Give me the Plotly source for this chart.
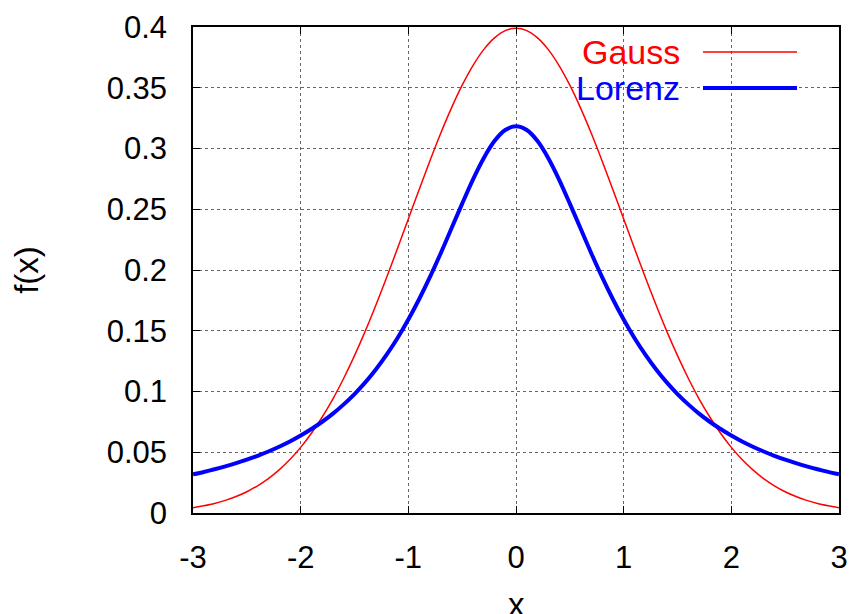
import plotly.graph_objects as go

# Values at x = 0 .. 3, step 0.1 (curves are symmetric)
x_half = [0.0, 0.1, 0.2, 0.3, 0.4, 0.5, 0.6, 0.7, 0.8, 0.9, 1.0, 1.1, 1.2, 1.3, 1.4, 1.5,
          1.6, 1.7, 1.8, 1.9, 2.0, 2.1, 2.2, 2.3, 2.4, 2.5, 2.6, 2.7, 2.8, 2.9, 3.0]
gauss_half = [0.3989, 0.3970, 0.3910, 0.3814, 0.3683, 0.3521, 0.3332, 0.3123, 0.2897,
              0.2661, 0.2420, 0.2179, 0.1942, 0.1714, 0.1497, 0.1295, 0.1109, 0.0940,
              0.0790, 0.0656, 0.0540, 0.0440, 0.0355, 0.0283, 0.0224, 0.0175, 0.0136,
              0.0104, 0.0079, 0.0060, 0.0044]
lorenz_half = [0.3183, 0.3152, 0.3061, 0.2920, 0.2744, 0.2546, 0.2341, 0.2136, 0.1941,
               0.1759, 0.1592, 0.1440, 0.1305, 0.1183, 0.1075, 0.0979, 0.0894, 0.0818,
               0.0751, 0.0691, 0.0637, 0.0588, 0.0545, 0.0506, 0.0471, 0.0439, 0.0410,
               0.0384, 0.0360, 0.0338, 0.0318]
x_ticks = [-3, -2, -1, 0, 1, 2, 3]
x_tick_labels = ["-3", "-2", "-1", "0", "1", "2", "3"]
y_ticks = [0, 0.05, 0.1, 0.15, 0.2, 0.25, 0.3, 0.35, 0.4]
y_tick_labels = ["0", "0.05", "0.1", "0.15", "0.2", "0.25", "0.3", "0.35", "0.4"]

x_vals = [-v for v in x_half[:0:-1]] + x_half
gauss_vals = gauss_half[:0:-1] + gauss_half
lorenz_vals = lorenz_half[:0:-1] + lorenz_half

FONT = "Liberation Sans, Arial, sans-serif"

fig = go.Figure()
fig.add_trace(go.Scatter(x=x_vals, y=gauss_vals, mode="lines", name="Gauss",
                         line=dict(color="#ff0000", width=1.5, shape="spline", smoothing=0.8)))
fig.add_trace(go.Scatter(x=x_vals, y=lorenz_vals, mode="lines", name="Lorenz",
                         line=dict(color="#0000ff", width=4, shape="spline", smoothing=0.8)))

axis_common = dict(
    showline=True, linecolor="black", linewidth=1.5, mirror="ticks",
    ticks="inside", ticklen=7, tickwidth=1, tickcolor="black",
    showgrid=True, gridcolor="#666666", griddash="dot", gridwidth=1,
    zeroline=False, automargin=False,
    tickfont=dict(family=FONT, size=31, color="black"),
)

H = 614 - 27 - 101
W = 855 - 193 - 16

fig.update_xaxes(range=[-3, 3], tickvals=x_ticks, ticktext=x_tick_labels,
                 ticklabelstandoff=16, **axis_common)
fig.update_yaxes(range=[0, 0.4], tickvals=y_ticks, ticktext=y_tick_labels,
                 title=dict(text="f(x)", font=dict(family=FONT, size=33, color="black"), standoff=58),
                 ticklabelstandoff=18, **axis_common)

# x-axis title, placed low like the reference (partly past the bottom edge)
fig.add_annotation(x=0.5, y=-(604 - 513) / H, xref="paper", yref="paper",
                   text="x", showarrow=False, xanchor="center", yanchor="middle",
                   font=dict(family=FONT, size=33, color="black"))

# gnuplot-style key, top right: text right-aligned, sample line to the right
key = [("Gauss", "#ff0000", 1.5, 52), ("Lorenz", "#0000ff", 4, 88)]
for name, col, w, ypix in key:
    yp = 1 - (ypix - 27) / H
    fig.add_annotation(x=(682 - 193) / W, y=yp, xref="paper", yref="paper",
                       text=name, showarrow=False, xanchor="right", yanchor="middle",
                       height=34, valign="middle",
                       font=dict(family=FONT, size=34, color=col))
    fig.add_shape(type="line", xref="paper", yref="paper",
                  x0=(703 - 193) / W, x1=(797 - 193) / W, y0=yp, y1=yp,
                  line=dict(color=col, width=w))

fig.update_layout(
    width=855, height=614,
    margin=dict(l=193, r=16, t=27, b=101),
    paper_bgcolor="white", plot_bgcolor="white",
    showlegend=False,
)

fig.write_html("out.html")
